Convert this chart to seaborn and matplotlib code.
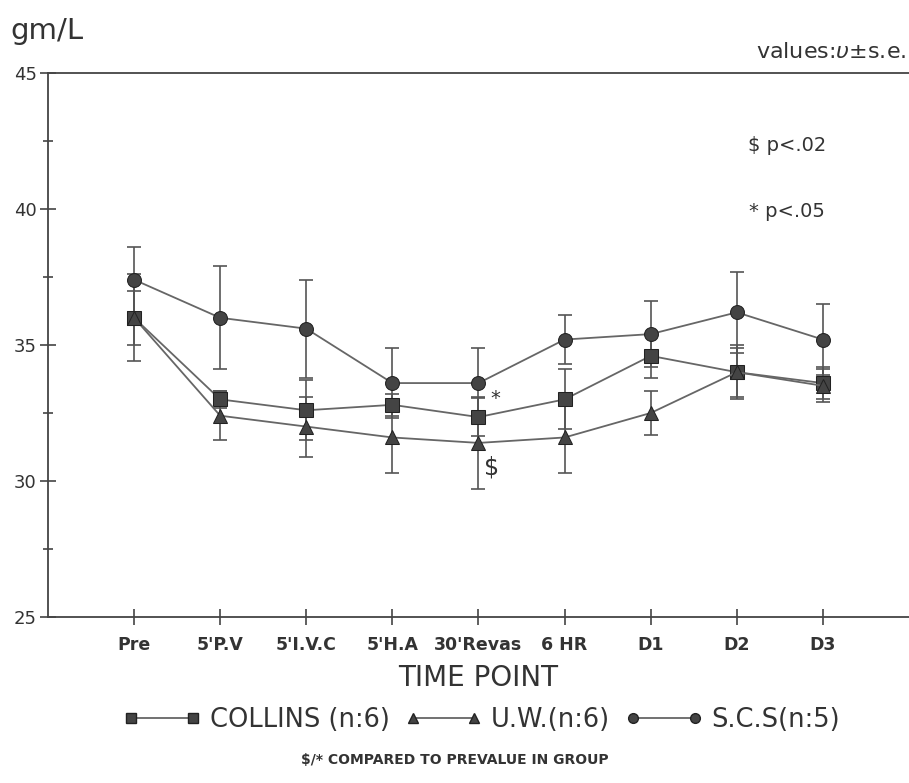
import numpy as np
import pandas as pd
import seaborn as sns
import matplotlib.pyplot as plt
from matplotlib.ticker import MultipleLocator

# values (mean and s.e.)
time_points = ["Pre", "5'P.V", "5'I.V.C", "5'H.A", "30'Revas", "6 HR", "D1", "D2", "D3"]
collins = [36.0, 33.0, 32.6, 32.8, 32.35, 33.0, 34.6, 34.0, 33.6]
collins_se = [1.0, 0.3, 1.1, 0.4, 0.7, 1.1, 0.8, 0.9, 0.6]
uw = [36.0, 32.4, 32.0, 31.6, 31.4, 31.6, 32.5, 34.0, 33.5]
uw_se = [1.6, 0.9, 1.1, 1.3, 1.7, 1.3, 0.8, 1.0, 0.6]
scs = [37.4, 36.0, 35.6, 33.6, 33.6, 35.2, 35.4, 36.2, 35.2]
scs_se = [1.2, 1.9, 1.8, 1.3, 1.3, 0.9, 1.2, 1.5, 1.3]
group_names = ["COLLINS (n:6)", "U.W.(n:6)", "S.C.S(n:5)"]

df = pd.concat([
    pd.DataFrame({"t": range(len(time_points)), "v": vals, "se": se, "group": name})
    for vals, se, name in zip([collins, uw, scs], [collins_se, uw_se, scs_se], group_names)
])

sns.set_style("white")
plt.rcParams["font.family"] = ["DejaVu Sans"]

fig = plt.figure(figsize=(9.09, 7.83), dpi=100)
ax = fig.add_axes([0.0528, 0.212, 0.9472, 0.6948])

ink = "#333333"
# error bars first so markers sit on top
for name in group_names:
    sub = df[df["group"] == name]
    ax.errorbar(sub["t"], sub["v"], yerr=sub["se"], fmt="none", ecolor="#555555",
                elinewidth=1.2, capsize=5, capthick=1.2, zorder=1)

sns.lineplot(data=df, x="t", y="v", hue="group", style="group",
             markers={"COLLINS (n:6)": "s", "U.W.(n:6)": "^", "S.C.S(n:5)": "o"},
             dashes=False, palette=[ink] * 3, markersize=10,
             markeredgecolor="#222222", linewidth=1.3, ax=ax, zorder=3, legend=False)
for line in ax.lines:
    line.set_color("#666666")
    line.set_markerfacecolor("#444444")

ax.set_xlim(-1, 9)
ax.set_ylim(25, 45)
ax.set_xticks(range(len(time_points)))
ax.set_xticklabels(time_points, fontsize=12.5, fontweight="bold", color=ink)
ax.yaxis.set_major_locator(MultipleLocator(5))
ax.yaxis.set_minor_locator(MultipleLocator(2.5))
ax.tick_params(axis="y", which="major", direction="inout", length=12, labelsize=13,
               pad=2, left=True, width=1.2, color="#444444", labelcolor=ink)
ax.tick_params(axis="y", which="minor", direction="inout", length=7, left=True,
               width=1.2, color="#444444")
ax.tick_params(axis="x", which="major", direction="inout", length=12,
               pad=8, bottom=True, width=1.2, color="#444444")
ax.spines["right"].set_visible(False)
for s in ["left", "top", "bottom"]:
    ax.spines[s].set_color("#444444")
    ax.spines[s].set_linewidth(1.3)
ax.set_xlabel("TIME POINT", fontsize=20, color=ink)
ax.xaxis.set_label_coords(0.5, -0.086)
ax.set_ylabel("")

# significance marks
ax.text(4.2, 33.05, "*", fontsize=14, color=ink, ha="center", va="center")
ax.text(4.15, 30.5, "$", fontsize=17, color=ink, ha="center", va="center")
ax.text(7.58, 42.35, "$ p<.02", fontsize=14, color=ink, ha="center", va="center")
ax.text(7.58, 39.9, "* p<.05", fontsize=14, color=ink, ha="center", va="center")

fig.text(0.011, 0.96, "gm/L", fontsize=21, color=ink, ha="left", va="center")
fig.text(0.997, 0.934, "values:$\\upsilon$±s.e.", fontsize=16, color=ink, ha="right", va="center")

handles = [plt.Line2D([0], [0], color="#666666", marker=m, markersize=7,
                      markerfacecolor="#444444", markeredgecolor="#222222", lw=1.3)
           for m in ["s", "^", "o"]]
fig.legend(handles, group_names, loc="center", bbox_to_anchor=(0.53, 0.081), ncol=3,
           numpoints=2, frameon=False, fontsize=18.5, handlelength=3.0, handletextpad=0.35,
           columnspacing=0.6, labelcolor=ink)
fig.text(0.5, 0.03, "$/* COMPARED TO PREVALUE IN GROUP", fontsize=10, fontweight="bold",
         color=ink, ha="center", va="center")

fig.savefig("out.png", dpi=100)
